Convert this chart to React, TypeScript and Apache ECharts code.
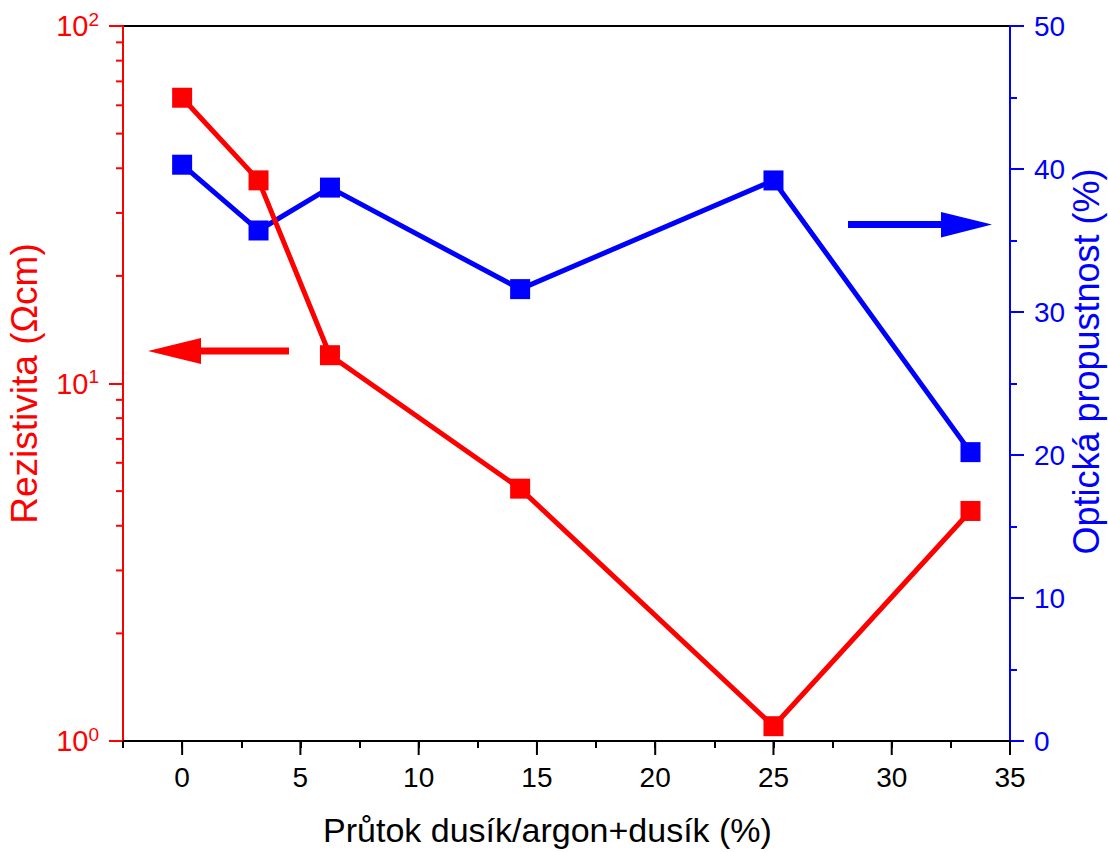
import React, { useEffect, useRef } from "react";
import * as echarts from "echarts";

const xValues = [0, 3.23, 6.25, 14.29, 25, 33.33];
const resistivity = [63.0, 37.0, 12.0, 5.08, 1.1, 4.4];
const transmittance = [40.3, 35.7, 38.7, 31.6, 39.2, 20.2];
const xMajorTicks = [0, 5, 10, 15, 20, 25, 30, 35];
const logMinorTicks = [2, 3, 4, 5, 6, 7, 8, 9, 20, 30, 40, 50, 60, 70, 80, 90];

const X_MIN = -2.5;
const X_MAX = 35;
const Y_LOG_MIN = 1;
const Y_LOG_MAX = 100;

const FONT = "Liberation Sans, Arial, sans-serif";
const RED = "#ff0000";
const BLUE = "#0000ff";

export default function App() {
  const ref = useRef<HTMLDivElement>(null);
  useEffect(() => {
    if (!ref.current) return;
    document.body.style.margin = "0";
    document.body.style.overflow = "hidden";
    const chart = echarts.init(ref.current, null, { renderer: "svg", width: 1108, height: 852 });
    const option: any = {
      animation: false,
      backgroundColor: "#ffffff",
      textStyle: { fontFamily: FONT },
      grid: {
        left: 123,
        right: 98,
        top: 26,
        bottom: 111,
        containLabel: false,
        outerBoundsMode: "none",
        show: true,
        borderColor: "#000",
        borderWidth: 2,
        backgroundColor: "transparent",
      },
      xAxis: {
        type: "value",
        min: X_MIN,
        max: X_MAX,
        interval: 2.5,
        name: "Průtok dusík/argon+dusík (%)",
        nameLocation: "middle",
        nameGap: 72,
        nameTextStyle: { fontSize: 34, color: "#000", fontFamily: FONT, padding: [0, 38, 0, 0] },
        axisLine: { show: true, onZero: false, lineStyle: { color: "#000", width: 2 } },
        axisTick: { show: true, length: 7, lineStyle: { color: "#000", width: 2 } },
        axisLabel: {
          fontSize: 28,
          color: "#000",
          fontFamily: FONT,
          margin: 22,
          formatter: (v: number) => (Math.abs(v % 5) < 1e-9 ? String(v) : ""),
        },
        splitLine: { show: false },
      },
      yAxis: [
        {
          type: "log",
          logBase: 10,
          min: Y_LOG_MIN,
          max: Y_LOG_MAX,
          position: "left",
          name: "Rezistivita (Ωcm)",
          nameLocation: "middle",
          nameGap: 80,
          nameTextStyle: { fontSize: 37, color: RED, fontFamily: FONT },
          axisLine: { show: true, onZero: false, lineStyle: { color: RED, width: 2 } },
          axisTick: { show: true, length: 14, lineStyle: { color: RED, width: 2 } },
          axisLabel: {
            margin: 24,
            color: RED,
            formatter: (v: number) => `{b|10}{e|${Math.round(Math.log10(v))}}`,
            rich: {
              b: { fontSize: 29, color: RED, fontFamily: FONT },
              e: { fontSize: 19, color: RED, fontFamily: FONT, padding: [0, 0, 14, 0] },
            },
          },
          splitLine: { show: false },
        },
        {
          type: "value",
          min: 0,
          max: 50,
          interval: 10,
          position: "right",
          name: "Optická propustnost (%)",
          nameLocation: "middle",
          nameGap: 58,
          nameRotate: 90,
          nameMoveOverlap: false,
          nameTextStyle: { fontSize: 36, color: BLUE, fontFamily: FONT, padding: [0, 0, 0, 44] },
          axisLine: { show: true, onZero: false, lineStyle: { color: BLUE, width: 2 } },
          axisTick: { show: true, length: 14, lineStyle: { color: BLUE, width: 2 } },
          minorTick: { show: true, splitNumber: 2, length: 7, lineStyle: { color: BLUE, width: 2 } },
          axisLabel: { fontSize: 28, color: BLUE, fontFamily: FONT, margin: 24 },
          splitLine: { show: false },
          minorSplitLine: { show: false },
        },
      ],
      series: [
        {
          type: "line",
          yAxisIndex: 1,
          data: xValues.map((x, i) => [x, transmittance[i]]),
          symbol: "rect",
          symbolSize: 20,
          lineStyle: { color: BLUE, width: 5 },
          itemStyle: { color: BLUE },
          z: 3,
        },
        {
          type: "line",
          yAxisIndex: 0,
          data: xValues.map((x, i) => [x, resistivity[i]]),
          symbol: "rect",
          symbolSize: 20,
          lineStyle: { color: RED, width: 5 },
          itemStyle: { color: RED },
          z: 4,
        },
        {
          type: "custom",
          yAxisIndex: 0,
          silent: true,
          clip: false,
          data: logMinorTicks.map((v) => [X_MIN, v]),
          renderItem: (params: any, api: any) => {
            const p = api.coord([api.value(0), api.value(1)]);
            return {
              type: "line",
              shape: { x1: p[0], y1: p[1], x2: p[0] - 7, y2: p[1] },
              style: { stroke: RED, lineWidth: 2 },
            };
          },
          z: 5,
        },
        {
          type: "custom",
          yAxisIndex: 0,
          silent: true,
          clip: false,
          data: xMajorTicks.map((v) => [v, Y_LOG_MIN]),
          renderItem: (params: any, api: any) => {
            const p = api.coord([api.value(0), api.value(1)]);
            return {
              type: "line",
              shape: { x1: p[0], y1: p[1], x2: p[0], y2: p[1] + 14 },
              style: { stroke: "#000", lineWidth: 2 },
            };
          },
          z: 5,
        },
      ],
      graphic: [
        {
          type: "rect",
          shape: { x: 199, y: 347.5, width: 90, height: 7 },
          style: { fill: RED },
        },
        {
          type: "polygon",
          shape: { points: [[148, 351], [201, 338], [201, 364]] },
          style: { fill: RED },
        },
        {
          type: "rect",
          shape: { x: 848, y: 221, width: 95, height: 7 },
          style: { fill: BLUE },
        },
        {
          type: "polygon",
          shape: { points: [[992, 224.5], [941, 212], [941, 237.5]] },
          style: { fill: BLUE },
        },
      ],
    };
    chart.setOption(option);
    return () => chart.dispose();
  }, []);
  return (
    <div
      ref={ref}
      style={{ position: "fixed", left: 0, top: 0, width: 1108, height: 852, background: "#fff" }}
    />
  );
}
